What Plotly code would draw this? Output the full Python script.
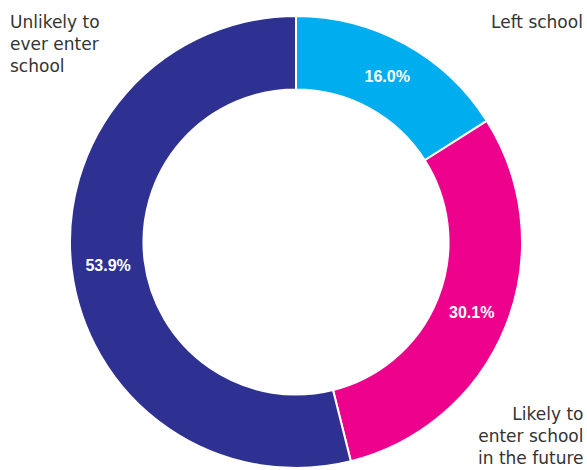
import plotly.graph_objects as go

# School attendance status of out-of-school children
categories = ["Left school", "Likely to enter school in the future", "Unlikely to ever enter school"]
shares = [16.0, 30.1, 53.9]
colors = ["#00AEEF", "#EC008C", "#2E3192"]
outer_labels = ["Left school", "Likely to<br>enter school<br>in the future", "Unlikely to<br>ever enter<br>school"]

W, H = 587, 470

fig = go.Figure(
    go.Pie(
        labels=categories,
        values=shares,
        sort=False,
        direction="clockwise",
        rotation=0,
        hole=0.675,
        marker=dict(colors=colors, line=dict(color="white", width=2)),
        texttemplate="%{value:.1f}%",
        textposition="inside",
        insidetextorientation="horizontal",
        textfont=dict(family="Liberation Sans, Arial, sans-serif", size=16, color="white", weight="bold"),
        showlegend=False,
        hoverinfo="label+value",
        domain=dict(x=[70 / W, 522 / W], y=[2 / H, 454 / H]),
    )
)

label_font = dict(family="DejaVu Sans, sans-serif", size=17, color="#333333")
fig.add_annotation(text=outer_labels[0], x=585 / W, y=1 - 10 / H, xref="paper", yref="paper",
                   xanchor="right", yanchor="top", align="right", showarrow=False, font=label_font)
fig.add_annotation(text=outer_labels[1], x=585 / W, y=0, xref="paper", yref="paper",
                   xanchor="right", yanchor="bottom", align="right", showarrow=False, font=label_font)
fig.add_annotation(text=outer_labels[2], x=8 / W, y=1 - 10 / H, xref="paper", yref="paper",
                   xanchor="left", yanchor="top", align="left", showarrow=False, font=label_font)

fig.update_layout(
    width=W,
    height=H,
    margin=dict(l=0, r=0, t=0, b=0),
    paper_bgcolor="white",
    plot_bgcolor="white",
)

fig.write_html("out.html")
